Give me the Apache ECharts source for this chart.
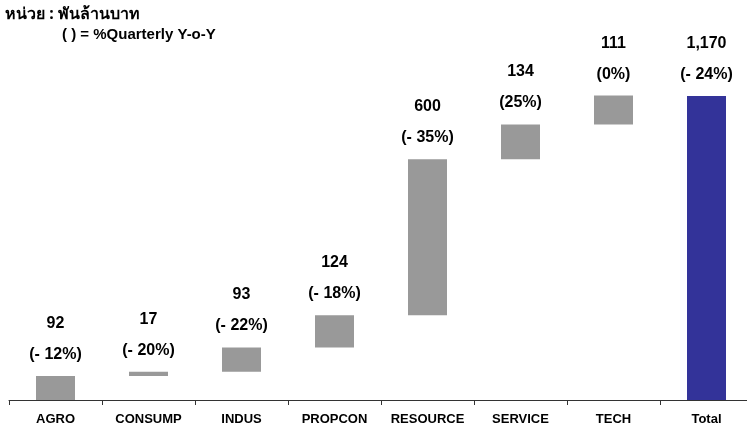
<!DOCTYPE html>
<html>
<head>
<meta charset="utf-8">
<script src="https://cdn.jsdelivr.net/npm/echarts@6/dist/echarts.min.js"></script>
<style>
  html, body { margin: 0; padding: 0; background: #fff; overflow: hidden; }
  #main { width: 760px; height: 430px; }
</style>
</head>
<body>
<div id="main"></div>
<script>
const categories = ['AGRO', 'CONSUMP', 'INDUS', 'PROPCON', 'RESOURCE', 'SERVICE', 'TECH', 'Total'];
const values = [92, 17, 93, 124, 600, 134, 111, 1170];
const valueLabels = ['92', '17', '93', '124', '600', '134', '111', '1,170'];
const pctLabels = ['(- 12%)', '(- 20%)', '(- 22%)', '(- 18%)', '(- 35%)', '(25%)', '(0%)', '(- 24%)'];

// waterfall base: running total for sectors, zero for the Total bar
let running = 0;
const bases = values.map(function (v, i) {
    if (i === values.length - 1) return 0;
    let b = running;
    running += v;
    return b;
});

const font = '"Liberation Sans", Arial, sans-serif';

let chart = echarts.init(document.getElementById('main'));
chart.setOption({
    animation: false,
    textStyle: { fontFamily: font },
    graphic: [
        { type: 'text', left: 5, top: 6, style: { text: 'หน่วย : พันล้านบาท', font: 'bold 16px "Noto Sans", sans-serif', fill: '#000' } },
        { type: 'text', left: 62, top: 27, style: { text: '( ) = %Quarterly Y-o-Y', font: 'bold 15px ' + font, fill: '#000' } }
    ],
    grid: { left: 9, width: 744, top: 40, height: 360 },
    xAxis: {
        type: 'category',
        data: categories,
        axisLine: { lineStyle: { color: '#333', width: 1 } },
        axisTick: { show: true, interval: 0, length: 5, lineStyle: { color: '#333' } },
        axisLabel: { interval: 0, color: '#000', fontWeight: 'bold', fontSize: 13, margin: 13, fontFamily: font }
    },
    yAxis: { type: 'value', min: 0, max: 1385, show: false, splitLine: { show: false } },
    series: [
        {
            type: 'bar', stack: 'w', barWidth: 39,
            itemStyle: { color: 'transparent' },
            data: bases, silent: true
        },
        {
            type: 'bar', stack: 'w', barWidth: 39,
            data: values.map(function (v, i) {
                return { value: v, itemStyle: { color: i === values.length - 1 ? '#333399' : '#999999' } };
            }),
            label: {
                show: true, position: 'top', distance: 6,
                formatter: function (p) {
                    return '{v|' + valueLabels[p.dataIndex] + '}\n{p|' + pctLabels[p.dataIndex] + '}';
                },
                rich: {
                    v: { fontSize: 16, fontWeight: 'bold', color: '#000', lineHeight: 31, fontFamily: font },
                    p: { fontSize: 16, fontWeight: 'bold', color: '#000', lineHeight: 31, fontFamily: font }
                }
            }
        }
    ]
});
</script>
</body>
</html>
